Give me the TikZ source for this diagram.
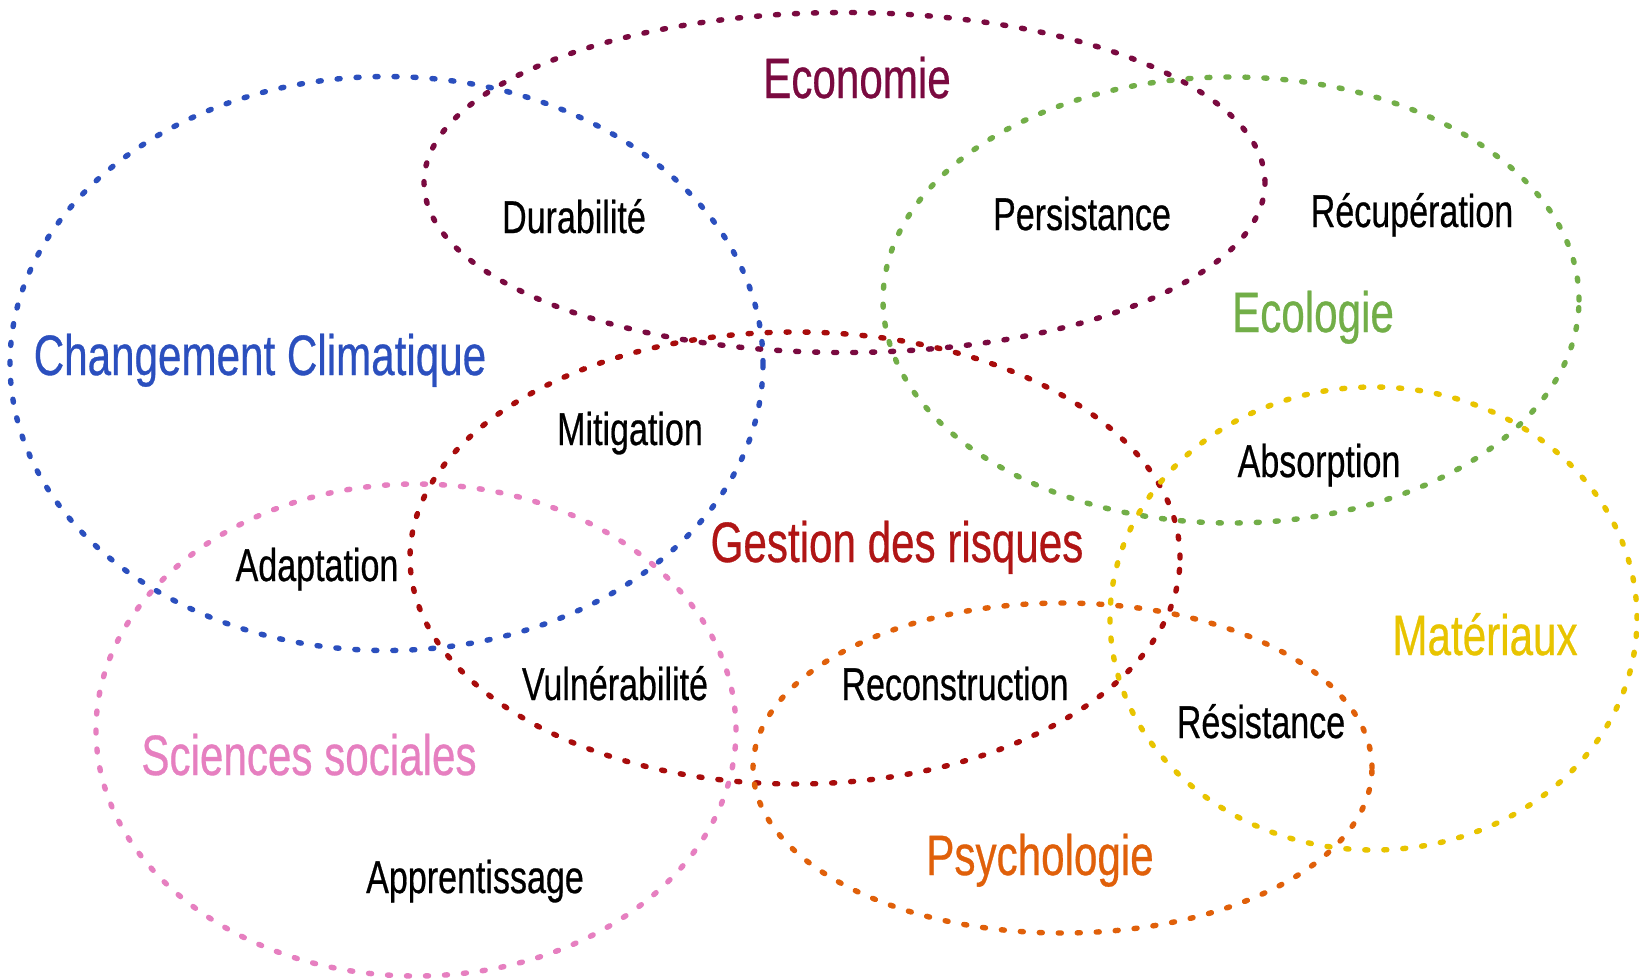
\documentclass[tikz,border=0pt]{standalone}
\usepackage{fontspec}
\setmainfont{Liberation Sans}
\newfontfamily\labfont{Liberation Sans}[FakeBold=0.6]
\definecolor{blueC}{HTML}{2B4FBE}
\definecolor{ecoC}{HTML}{7A0A40}
\definecolor{greenC}{HTML}{72AE48}
\definecolor{riskC}{HTML}{A80C0C}
\definecolor{pinkC}{HTML}{E67FC0}
\definecolor{yellowC}{HTML}{E8C400}
\definecolor{orangeC}{HTML}{E0600A}
\definecolor{riskT}{HTML}{B01515}
\begin{document}
\begin{tikzpicture}[x=1pt,y=1pt,
  ring/.style={draw=#1, line width=5.4pt, line cap=round, dash pattern=on 3pt off 16pt},
  lab/.style={anchor=base, inner sep=0pt, xscale=0.74, transform shape, font=\labfont\fontsize{46}{50}\selectfont, text=black},
  head/.style={anchor=base, inner sep=0pt, xscale=0.74, transform shape, font=\labfont\fontsize{57}{60}\selectfont, text=#1}]
\useasboundingbox (0,0) rectangle (1639,-978);
\fill[white] (0,0) rectangle (1639,-978);
% ellipses
\draw[ring=blueC]   (386.5,-363.5) ellipse [x radius=376.5pt, y radius=287pt];
\draw[ring=ecoC]    (844.5,-182.5) ellipse [x radius=420.5pt, y radius=170pt];
\draw[ring=greenC]  (1231,-300)    ellipse [x radius=348pt, y radius=223pt];
\draw[ring=riskC]   (795,-558)     ellipse [x radius=385pt, y radius=226pt];
\draw[ring=pinkC]   (416,-730)     ellipse [x radius=320pt, y radius=246pt];
\draw[ring=yellowC] (1373.5,-618.5) ellipse [x radius=263.5pt, y radius=231.5pt];
\draw[ring=orangeC] (1062.5,-768)  ellipse [x radius=309.5pt, y radius=165pt];
% headings
\node[head=ecoC]    (eco) at (857,-98)  {Economie};
\node[head=blueC]   (cc)  at (260,-375) {Changement Climatique};
\node[head=greenC]  (ecol) at (1313,-332) {Ecologie};
\node[head=riskT]   (gr)  at (897,-562) {Gestion des risques};
\node[head=pinkC]   (ss)  at (309,-775) {Sciences sociales};
\node[head=yellowC] (mat) at (1485,-655) {Matériaux};
\node[head=orangeC] (psy) at (1040,-875) {Psychologie};
% labels
\node[lab] (dur) at (574,-233)  {Durabilité};
\node[lab] (per) at (1082,-230) {Persistance};
\node[lab] (rec) at (1412,-227) {Récupération};
\node[lab] (mit) at (630,-445)  {Mitigation};
\node[lab] (abs) at (1319,-477) {Absorption};
\node[lab] (ada) at (317,-581)  {Adaptation};
\node[lab] (vul) at (615,-700)  {Vulnérabilité};
\node[lab] (rcs) at (955,-700)  {Reconstruction};
\node[lab] (res) at (1261,-738) {Résistance};
\node[lab] (app) at (475,-893)  {Apprentissage};
\end{tikzpicture}
\end{document}
